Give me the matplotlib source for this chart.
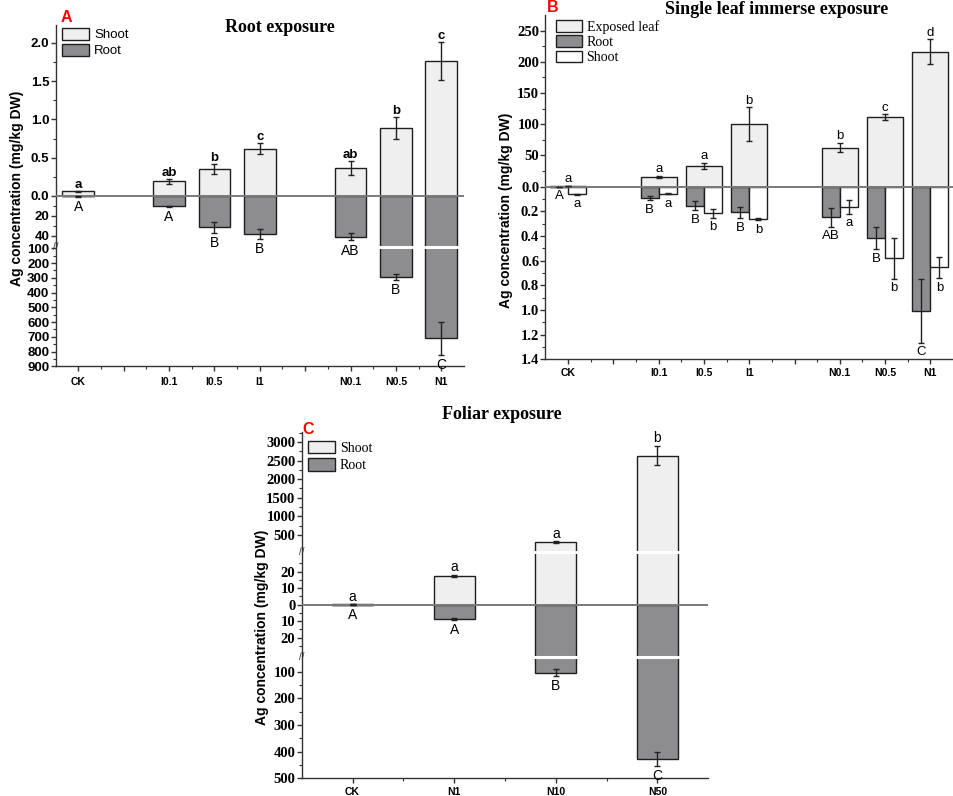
import numpy as np
import matplotlib
matplotlib.use('Agg')
import matplotlib.pyplot as plt
from matplotlib.patches import Patch
import matplotlib.transforms as mtransforms

# ---------------- data ----------------
a_cats = ['CK', 'I0.1', 'I0.5', 'I1', 'N0.1', 'N0.5', 'N1']
a_shoot = [0.06, 0.19, 0.35, 0.62, 0.37, 0.89, 1.76]
a_shoot_err = [0.01, 0.03, 0.065, 0.07, 0.09, 0.14, 0.25]
a_root = [0.3, 10, 31, 37.5, 40.5, 292, 710]
a_root_err = [0.2, 0.5, 5.5, 5, 3.8, 20, 110]
a_shoot_let = ['a', 'ab', 'b', 'c', 'ab', 'b', 'c']
a_root_let = ['A', 'A', 'B', 'B', 'AB', 'B', 'C']

b_cats = ['CK', 'I0.1', 'I0.5', 'I1', 'N0.1', 'N0.5', 'N1']
b_leaf = [0.5, 15, 32.7, 100, 62.5, 111, 216]
b_leaf_err = [0, 2, 5, 27, 7, 4.5, 20]
b_root = [0.003, 0.095, 0.155, 0.21, 0.25, 0.42, 1.005]
b_root_err = [0, 0.015, 0.036, 0.047, 0.078, 0.09, 0.26]
b_shoot = [0.063, 0.06, 0.217, 0.263, 0.163, 0.58, 0.655]
b_shoot_err = [0.006, 0.004, 0.038, 0.01, 0.057, 0.166, 0.088]
b_leaf_let = ['a', 'a', 'a', 'b', 'b', 'c', 'd']
b_root_let = ['A', 'B', 'B', 'B', 'AB', 'B', 'C']
b_shoot_let = ['a', 'a', 'b', 'b', 'a', 'b', 'b']

c_cats = ['CK', 'N1', 'N10', 'N50']
c_shoot = [0.3, 17.6, 310, 2630]
c_shoot_err = [0, 0.6, 15, 260]
c_root = [0.2, 8.9, 104, 428]
c_root_err = [0, 0.6, 13, 25]
c_shoot_let = ['a', 'a', 'a', 'b']
c_root_let = ['A', 'A', 'B', 'C']

# ---------------- style ----------------
W, H = 954, 796
fig = plt.figure(figsize=(W / 100, H / 100), dpi=100)
SANS = 'Liberation Sans'
SERIF = 'Liberation Serif'
LIGHT = '#efefef'
DARK = '#8d8d90'
EDGE = '#1e1e1e'
AXC = '#333333'


def piecewise(vals, pix):
    v = np.asarray(vals, float)
    p = np.asarray(pix, float)
    s0 = (p[1] - p[0]) / (v[1] - v[0])
    s1 = (p[-1] - p[-2]) / (v[-1] - v[-2])
    v2 = np.concatenate([[v[0] - 1e6], v, [v[-1] + 1e6]])
    p2 = np.concatenate([[p[0] - 1e6 * s0], p, [p[-1] + 1e6 * s1]])
    return (lambda x: np.interp(x, v2, p2)), (lambda y: np.interp(y, p2, v2))


def make_axes(left_px, right_px, zero_px, vals, pix):
    top_px = zero_px - pix[-1]
    bot_px = zero_px - pix[0]
    ax = fig.add_axes([left_px / W, 1 - bot_px / H,
                       (right_px - left_px) / W, (bot_px - top_px) / H])
    fwd, inv = piecewise(vals, pix)
    ax.set_yscale('function', functions=(fwd, inv))
    ax.set_ylim(vals[0], vals[-1])
    ax.patch.set_alpha(0)
    return ax


def style_axes(ax, xlim, cat_pos, cats, yt, ytl, yminor, yfam, ysize, xpad):
    for s in ['top', 'right']:
        ax.spines[s].set_visible(False)
    for s in ['left', 'bottom']:
        ax.spines[s].set_linewidth(1.0)
        ax.spines[s].set_color(AXC)
    ax.set_xlim(*xlim)
    majors = np.arange(np.ceil(xlim[0]), xlim[1] + 1e-9)
    labs = []
    for m in majors:
        lab = ''
        for p, c in zip(cat_pos, cats):
            if abs(p - m) < 1e-9:
                lab = c
        labs.append(lab)
    ax.set_xticks(majors, labs, fontfamily=SANS, fontweight='bold', fontsize=7.5)
    ax.set_xticks(majors[:-1] + 0.5, minor=True)
    ax.set_yticks(yt, ytl, fontfamily=yfam, fontweight='bold', fontsize=ysize)
    ax.set_yticks(yminor, minor=True)
    ax.tick_params(axis='both', which='major', direction='out', length=3.5, width=1, color=AXC)
    ax.tick_params(axis='both', which='minor', direction='out', length=2, width=0.8, color=AXC)
    ax.tick_params(axis='y', pad=1)
    ax.tick_params(axis='x', pad=xpad)
    ax.axhline(0, color='#7a7a7a', lw=1.4, zorder=3)


def add_break(ax, yv):
    ax.axhline(yv, color='white', lw=2.2, zorder=1.6)
    tr = mtransforms.blended_transform_factory(ax.transAxes, ax.transData)
    ax.text(0, yv, '//', transform=tr, ha='center', va='center', fontsize=7,
            fontfamily=SANS, color=AXC, zorder=5, clip_on=False)


def letters(ax, xs, ys, labs, up, fam, size, weight, off):
    for x, y, s in zip(xs, ys, labs):
        ax.annotate(s, (x, y), xytext=(0, off if up else -off), textcoords='offset points',
                    ha='center', va='bottom' if up else 'top', fontfamily=fam,
                    fontsize=size, fontweight=weight, zorder=6)


ebkw = dict(fmt='none', ecolor='#222222', elinewidth=1, capsize=2, capthick=1, zorder=4)
barkw = dict(edgecolor=EDGE, linewidth=1.0, zorder=1.5)

# ---------------- Panel A ----------------
posA = [0, 2, 3, 4, 6, 7, 8]
axA = make_axes(55.6, 464.0, 196.0, [-900, -93, -51, 0, 2.23], [-170.4, -51.2, -51.0, 0, 170.8])
axA.bar(posA, a_shoot, 0.7, color=LIGHT, **barkw)
axA.bar(posA, [-r for r in a_root], 0.7, color=DARK, **barkw)
axA.errorbar(posA, a_shoot, yerr=a_shoot_err, **ebkw)
axA.errorbar(posA, [-r for r in a_root], yerr=a_root_err, **ebkw)
add_break(axA, -51.1)
ytA = [2.0, 1.5, 1.0, 0.5, 0.0, -20, -40] + [-100 * k for k in range(1, 10)]
ytlA = ['2.0', '1.5', '1.0', '0.5', '0.0', '20', '40'] + [str(100 * k) for k in range(1, 10)]
ymA = [0.25, 0.75, 1.25, 1.75, -10, -30] + [-50 - 100 * k for k in range(1, 9)]
style_axes(axA, (-0.5, 8.5), posA, a_cats, ytA, ytlA, ymA, SANS, 9.5, 4)
letters(axA, posA, [s + e for s, e in zip(a_shoot, a_shoot_err)], a_shoot_let, True, SANS, 9.5, 'bold', 0)
letters(axA, posA, [-(r + e) for r, e in zip(a_root, a_root_err)], a_root_let, False, SANS, 10, 'normal', 2.5)
axA.legend(handles=[Patch(facecolor=LIGHT, edgecolor=EDGE, label='Shoot'),
                    Patch(facecolor=DARK, edgecolor=EDGE, label='Root')],
           loc='upper left', bbox_to_anchor=(62 / W, 1 - 28 / H), bbox_transform=fig.transFigure,
           frameon=False, borderaxespad=0, borderpad=0, handlelength=2.05, handleheight=1.0,
           handletextpad=0.4, labelspacing=0.2, prop={'family': SANS, 'size': 9.5})

# ---------------- Panel B ----------------
posB = [0, 2, 3, 4, 6, 7, 8]
axB = make_axes(545.5, 953.0, 186.5, [-1.4, 0, 275], [-172.9, 0, 171.6])
axB.bar(posB, b_leaf, 0.8, color=LIGHT, **barkw)
xr = [p - 0.2 for p in posB]
xs = [p + 0.2 for p in posB]
axB.bar(xr, [-v for v in b_root], 0.4, color=DARK, **barkw)
axB.bar(xs, [-v for v in b_shoot], 0.4, color='white', **barkw)
axB.errorbar(posB, b_leaf, yerr=b_leaf_err, **ebkw)
axB.errorbar(xr, [-v for v in b_root], yerr=b_root_err, **ebkw)
axB.errorbar(xs, [-v for v in b_shoot], yerr=b_shoot_err, **ebkw)
ytB = [250, 200, 150, 100, 50, 0, -0.2, -0.4, -0.6, -0.8, -1.0, -1.2, -1.4]
ytlB = ['250', '200', '150', '100', '50', '0.0', '0.2', '0.4', '0.6', '0.8', '1.0', '1.2', '1.4']
ymB = [25 + 50 * k for k in range(5)] + [-0.1 - 0.2 * k for k in range(7)]
style_axes(axB, (-0.5, 8.5), posB, b_cats, ytB, ytlB, ymB, SERIF, 10.5, 3)
letters(axB, posB, [v + e for v, e in zip(b_leaf, b_leaf_err)], b_leaf_let, True, SANS, 9.5, 'normal', 0.5)
letters(axB, xr, [-(v + e) for v, e in zip(b_root, b_root_err)], b_root_let, False, SANS, 9.5, 'normal', 2.5)
letters(axB, xs, [-(v + e) for v, e in zip(b_shoot, b_shoot_err)], b_shoot_let, False, SANS, 9.5, 'normal', 2.5)
axB.legend(handles=[Patch(facecolor=LIGHT, edgecolor=EDGE, label='Exposed leaf'),
                    Patch(facecolor=DARK, edgecolor=EDGE, label='Root'),
                    Patch(facecolor='white', edgecolor=EDGE, label='Shoot')],
           loc='upper left', bbox_to_anchor=(556 / W, 1 - 20 / H), bbox_transform=fig.transFigure,
           frameon=False, borderaxespad=0, borderpad=0, handlelength=1.85, handleheight=0.9,
           handletextpad=0.35, labelspacing=0.12, prop={'family': SERIF, 'size': 10})

# ---------------- Panel C ----------------
posC = [0, 1, 2, 3]
axC = make_axes(301.7, 708.3, 604.7, [-500, -46.4, -31.5, 0, 31.7, 3270],
                [-173.6, -52.5, -52.0, 0, 52.3, 172.8])
axC.bar(posC, c_shoot, 0.4, color=LIGHT, **barkw)
axC.bar(posC, [-v for v in c_root], 0.4, color=DARK, **barkw)
axC.errorbar(posC, c_shoot, yerr=c_shoot_err, **ebkw)
axC.errorbar(posC, [-v for v in c_root], yerr=c_root_err, **ebkw)
add_break(axC, 31.7)
add_break(axC, -40)
ytC = [3000, 2500, 2000, 1500, 1000, 500, 20, 10, 0, -10, -20, -100, -200, -300, -400, -500]
ytlC = ['3000', '2500', '2000', '1500', '1000', '500', '20', '10', '0', '10', '20',
        '100', '200', '300', '400', '500']
ymC = [750, 1250, 1750, 2250, 2750, 3250, 25, 15, 5, -5, -15, -25, -150, -250, -350, -450]
style_axes(axC, (-0.5, 3.5), posC, c_cats, ytC, ytlC, ymC, SERIF, 10.5, 3)
c_up = [v + e for v, e in zip(c_shoot, c_shoot_err)]
letters(axC, posC, c_up, c_shoot_let, True, SANS, 10, 'normal', 0.5)
letters(axC, posC, [-(v + e) for v, e in zip(c_root, c_root_err)], c_root_let, False, SANS, 10, 'normal', 2)
axC.legend(handles=[Patch(facecolor=LIGHT, edgecolor=EDGE, label='Shoot'),
                    Patch(facecolor=DARK, edgecolor=EDGE, label='Root')],
           loc='upper left', bbox_to_anchor=(308 / W, 1 - 441 / H), bbox_transform=fig.transFigure,
           frameon=False, borderaxespad=0, borderpad=0, handlelength=1.95, handleheight=1.0,
           handletextpad=0.35, labelspacing=0.25, prop={'family': SERIF, 'size': 10})

# ---------------- texts ----------------
def ftext(x, y, s, **kw):
    fig.text(x / W, 1 - y / H, s, ha='center', va='center', **kw)

ftext(280, 27, 'Root exposure', fontfamily=SERIF, fontweight='bold', fontsize=13)
ftext(777, 9, 'Single leaf immerse exposure', fontfamily=SERIF, fontweight='bold', fontsize=13)
ftext(502, 415, 'Foliar exposure', fontfamily=SERIF, fontweight='bold', fontsize=13)
ftext(66, 18, 'A', fontfamily=SANS, fontweight='bold', fontsize=11.5, color='red')
ftext(553, 8, 'B', fontfamily=SANS, fontweight='bold', fontsize=11.5, color='red')
ftext(308, 429, 'C', fontfamily=SANS, fontweight='bold', fontsize=11.5, color='red')
ylab = 'Ag concentration (mg/kg DW)'
ftext(17, 188, ylab, rotation=90, fontfamily=SANS, fontweight='bold', fontsize=10)
ftext(506, 210, ylab, rotation=90, fontfamily=SANS, fontweight='bold', fontsize=10)
ftext(262, 627, ylab, rotation=90, fontfamily=SANS, fontweight='bold', fontsize=10)

fig.savefig('out.png', dpi=100)
